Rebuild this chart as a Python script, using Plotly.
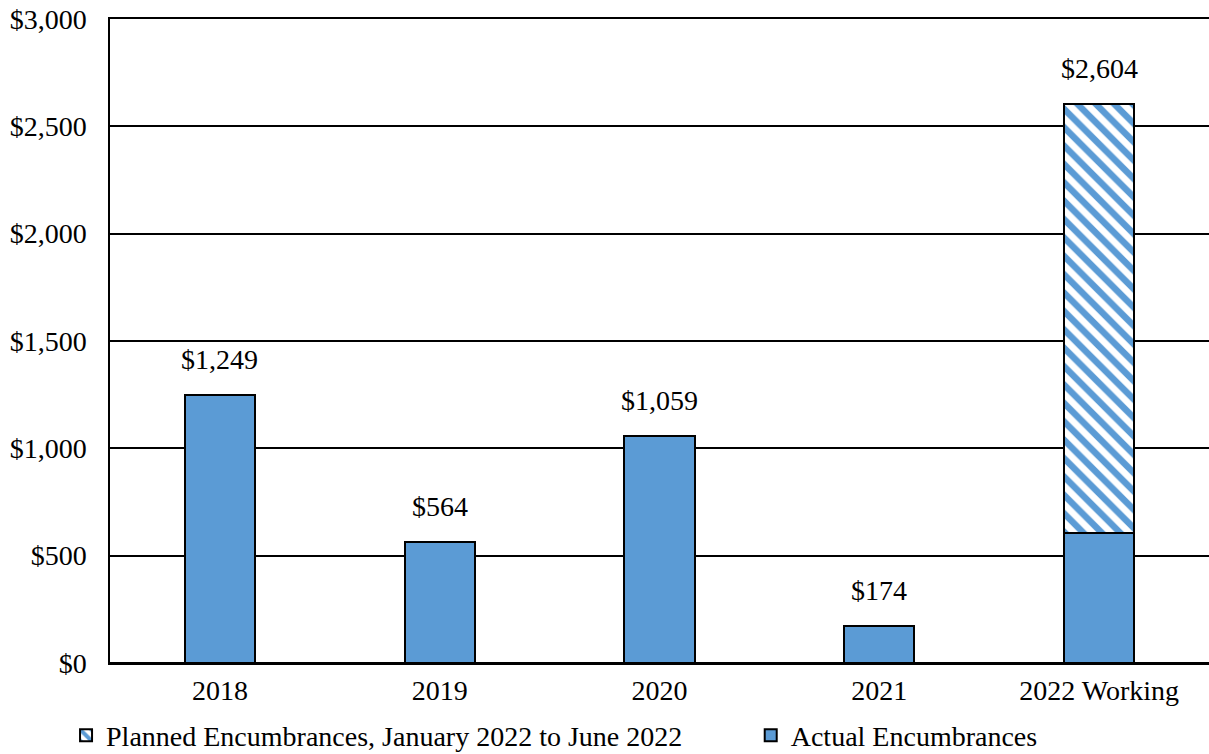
import plotly.graph_objects as go

categories = ["2018", "2019", "2020", "2021", "2022 Working"]
actual = [1249, 564, 1059, 174, 605]
planned = [0, 0, 0, 0, 1999]
totals = [a + p for a, p in zip(actual, planned)]

BLUE = "#5B9BD5"
FONT = "Liberation Serif, Times New Roman, serif"

fig = go.Figure()
fig.add_trace(go.Bar(
    x=categories, y=actual, name="Actual Encumbrances", legend="legend2",
    marker=dict(color=BLUE, line=dict(color="black", width=2)),
))
fig.add_trace(go.Bar(
    x=categories, y=planned, name="Planned Encumbrances, January 2022 to June 2022",
    legend="legend",
    marker=dict(color="white", line=dict(color="black", width=2),
                pattern=dict(shape="\\", fgcolor=BLUE, bgcolor="white", size=13,
                             solidity=0.5, fgopacity=1)),
))

for i, t in enumerate(totals):
    fig.add_annotation(x=i, y=t, text="${:,}".format(t), showarrow=False,
                       yanchor="bottom", yshift=18, font=dict(size=28, color="black", family=FONT))

legend_common = dict(orientation="h", y=-0.074, xanchor="left", yanchor="top",
                     font=dict(size=28), itemwidth=30, bgcolor="rgba(0,0,0,0)")

fig.update_layout(
    width=1209, height=754,
    margin=dict(l=110, r=0, t=19, b=91, autoexpand=False),
    barmode="stack", bargap=0.68,
    plot_bgcolor="white", paper_bgcolor="white",
    font=dict(family=FONT, size=28, color="black"),
    showlegend=True,
    legend=dict(x=-0.04, **legend_common),
    legend2=dict(x=0.583, **legend_common),
    yaxis=dict(range=[0, 3000], dtick=500, tickprefix="$", tickformat=",",
               showgrid=True, gridcolor="black", gridwidth=1.5,
               showline=True, linecolor="black", linewidth=1.5, mirror=False,
               zeroline=True, zerolinecolor="black", zerolinewidth=1.5,
               ticks="", ticklabelstandoff=16, automargin=False),
    xaxis=dict(type="category", range=[-0.5, 4.5], showline=True, linecolor="black",
               linewidth=1.5, mirror=True, ticks="", ticklabelstandoff=2, automargin=False),
)

fig.write_html("out.html", config={"displayModeBar": False},
               post_script="document.body.style.margin='0';")
